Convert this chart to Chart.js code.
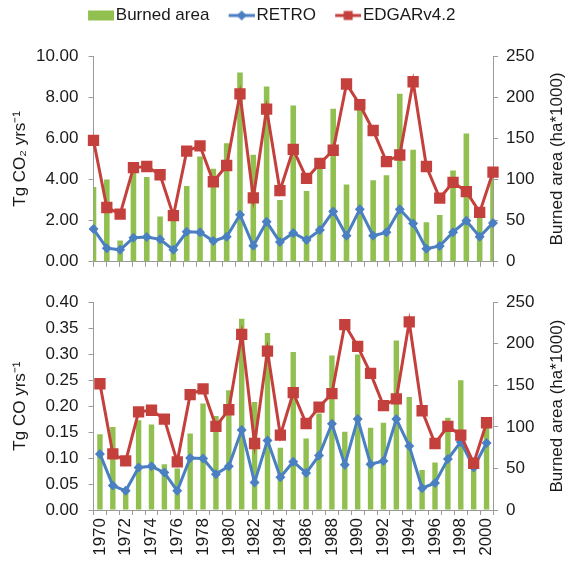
<!DOCTYPE html>
<html>
<head>
<meta charset="utf-8">
<title>CO2 / CO emissions and burned area 1970-2000</title>
<script src="https://cdn.jsdelivr.net/npm/chart.js@4.4.0/dist/chart.umd.min.js"></script>
<style>
  html, body { margin: 0; padding: 0; background: #fff; }
  #wrap { position: relative; width: 570px; height: 568px; }
  .panel { position: absolute; left: 0; width: 570px; }
  #topPanel { top: 0; height: 282px; }
  #bottomPanel { top: 282px; height: 286px; }
</style>
</head>
<body>
<div id="wrap">
  <div class="panel" id="topPanel"><canvas id="chartCO2"></canvas></div>
  <div class="panel" id="bottomPanel"><canvas id="chartCO"></canvas></div>
</div>
<script>
// --- data ---
const years = [];
for (let y = 1970; y <= 2000; y++) years.push(String(y));

// burned area (ha*1000), right axis of both panels
const burnedArea = [91, 100, 26, 108, 103, 55, 50, 92, 128, 113, 144, 230, 130, 213, 75, 190,
  86, 116, 186, 94, 187, 99, 105, 204, 136, 48, 57, 111, 156, 60, 110];

// Tg CO2 per year
const retroCO2 = [1.59, 0.66, 0.58, 1.17, 1.20, 1.09, 0.58, 1.46, 1.44, 1.01, 1.22, 2.29, 0.78, 1.94, 0.96, 1.40,
  1.06, 1.54, 2.45, 1.27, 2.55, 1.27, 1.43, 2.55, 1.86, 0.63, 0.77, 1.44, 1.99, 1.22, 1.89];
const edgarCO2 = [5.90, 2.64, 2.32, 4.58, 4.63, 4.23, 2.24, 5.38, 5.63, 3.89, 4.68, 8.16, 3.11, 7.42, 3.46, 5.46,
  4.05, 4.78, 5.42, 8.64, 7.63, 6.38, 4.87, 5.19, 8.75, 4.63, 3.09, 3.86, 3.41, 2.40, 4.36];

// Tg CO per year
const retroCO = [0.108, 0.047, 0.037, 0.082, 0.084, 0.072, 0.037, 0.100, 0.099, 0.069, 0.084, 0.154, 0.053, 0.134, 0.063, 0.093,
  0.071, 0.105, 0.166, 0.087, 0.175, 0.088, 0.0945, 0.175, 0.123, 0.042, 0.052, 0.098, 0.131, 0.082, 0.129];
const edgarCO = [0.243, 0.108, 0.0945, 0.189, 0.192, 0.175, 0.0926, 0.222, 0.233, 0.161, 0.193, 0.338, 0.128, 0.306, 0.144, 0.226,
  0.1665, 0.198, 0.224, 0.357, 0.315, 0.263, 0.201, 0.214, 0.362, 0.191, 0.128, 0.161, 0.144, 0.090, 0.168];

// --- styles ---
const FONT = "'Liberation Sans', Arial, sans-serif";
const TEXT = "#1a1a1a";
const AXIS = "#9a9a9a";
const GREEN = "#92C050";
const BLUE = "#4A7FC1";
const RED = "#C4403D";
const FS = 17;

const LEFT_W = 93.5;   // width of left axis box
const RIGHT_PAD = 34;  // room for the right-hand title
const RIGHT_W = 43;    // width of right axis box

// legend icons (line + marker like a spreadsheet legend)
const LEGEND_BOX = 31.5;
function legendIcon(draw) {
  const c = document.createElement("canvas");
  c.width = Math.round(LEGEND_BOX + FS - 4);
  c.height = 14;
  const g = c.getContext("2d");
  draw(g, c.width - 26, c.height / 2);
  return c;
}
const icons = [
  legendIcon((g, x, cy) => { g.fillStyle = GREEN; g.fillRect(x, cy - 5, 26, 10); }),
  legendIcon((g, x, cy) => {
    g.strokeStyle = BLUE; g.lineWidth = 3;
    g.beginPath(); g.moveTo(x, cy); g.lineTo(x + 26, cy); g.stroke();
    g.fillStyle = BLUE;
    g.beginPath(); g.moveTo(x + 13, cy - 5); g.lineTo(x + 18, cy); g.lineTo(x + 13, cy + 5); g.lineTo(x + 8, cy); g.closePath(); g.fill();
  }),
  legendIcon((g, x, cy) => {
    g.strokeStyle = RED; g.lineWidth = 3;
    g.beginPath(); g.moveTo(x, cy); g.lineTo(x + 26, cy); g.stroke();
    g.fillStyle = RED; g.fillRect(x + 8.5, cy - 4.5, 9, 9);
  }),
];

// right axis title reads bottom-to-top, so draw it here
const rightTitle = {
  id: "rightTitle",
  afterDraw(chart, args, opts) {
    const { ctx, chartArea } = chart;
    ctx.save();
    ctx.translate(opts.x, (chartArea.top + chartArea.bottom) / 2);
    ctx.rotate(-Math.PI / 2);
    ctx.font = FS + "px " + FONT;
    ctx.fillStyle = TEXT;
    ctx.textAlign = "center";
    ctx.textBaseline = "middle";
    ctx.fillText(opts.text, 0, 0);
    ctx.restore();
  },
};

function datasets(retro, edgar) {
  return [
    {
      type: "bar", label: "Burned area", data: burnedArea, yAxisID: "y2",
      backgroundColor: GREEN, barPercentage: 0.42, categoryPercentage: 1, order: 3,
    },
    {
      type: "line", label: "RETRO", data: retro, yAxisID: "y",
      borderColor: BLUE, backgroundColor: BLUE, borderWidth: 3,
      pointStyle: "rectRot", pointRadius: 5, pointBorderWidth: 0, order: 2,
    },
    {
      type: "line", label: "EDGARv4.2", data: edgar, yAxisID: "y",
      borderColor: RED, backgroundColor: RED, borderWidth: 3,
      pointStyle: "rect", pointRadius: 8, pointBorderWidth: 0, order: 1,
    },
  ];
}

const gridOpts = { drawOnChartArea: false, drawTicks: true, tickLength: 5, color: AXIS, lineWidth: 1 };
const borderOpts = { display: true, color: AXIS, width: 1 };
const tickFont = { family: FONT, size: FS };

function leftAxis(max, step, title) {
  return {
    position: "left", min: 0, max: max,
    afterFit: (s) => { s.width = LEFT_W; },
    grid: gridOpts, border: borderOpts,
    ticks: { stepSize: step, color: TEXT, font: tickFont, padding: 10, callback: (v) => Number(v).toFixed(2) },
    title: { display: true, text: title, color: TEXT, font: { family: FONT, size: FS }, padding: { top: 10, bottom: 0 } },
  };
}
function rightAxis() {
  return {
    position: "right", min: 0, max: 250,
    afterFit: (s) => { s.width = RIGHT_W; },
    grid: gridOpts, border: borderOpts,
    ticks: { stepSize: 50, color: TEXT, font: tickFont, padding: 8 },
  };
}

Chart.defaults.font.family = FONT;

// top panel: CO2
new Chart(document.getElementById("chartCO2"), {
  data: { labels: years, datasets: datasets(retroCO2, edgarCO2) },
  plugins: [rightTitle],
  options: {
    responsive: true, maintainAspectRatio: false, animation: false,
    layout: { padding: { left: 0, right: RIGHT_PAD, top: 0, bottom: 0 } },
    plugins: {
      tooltip: { enabled: false },
      legend: {
        position: "top",
        labels: {
          usePointStyle: true, pointStyleWidth: LEGEND_BOX, padding: 7,
          color: TEXT, font: { family: FONT, size: FS },
          // keep dataset order (bars first) and use the line+marker icons;
          // a trailing space on the last entry nudges the row a bit left
          generateLabels: (chart) => {
            const items = Chart.defaults.plugins.legend.labels.generateLabels(chart)
              .sort((a, b) => a.datasetIndex - b.datasetIndex);
            items.forEach((item) => { item.pointStyle = icons[item.datasetIndex]; });
            items[items.length - 1].text += " ";
            return items;
          },
        },
      },
      rightTitle: { text: "Burned area (ha*1000)", x: 557 },
    },
    scales: {
      gap: {
        type: "category", position: "top", display: true,
        grid: { display: false }, border: { display: false }, ticks: { display: false },
        afterFit: (s) => { s.height = 22; },
      },
      x: {
        type: "category", offset: true,
        afterFit: (s) => { s.height = 18; },
        grid: Object.assign({ offset: true }, gridOpts), border: borderOpts,
        ticks: { display: false },
      },
      y: leftAxis(10, 2, "Tg CO\u2082 yrs\u207B\u00B9"),
      y2: rightAxis(),
    },
  },
});

// bottom panel: CO
new Chart(document.getElementById("chartCO"), {
  data: { labels: years, datasets: datasets(retroCO, edgarCO) },
  plugins: [rightTitle],
  options: {
    responsive: true, maintainAspectRatio: false, animation: false,
    layout: { padding: { left: 0, right: RIGHT_PAD, top: 12, bottom: 0 } },
    plugins: {
      tooltip: { enabled: false },
      legend: { display: false },
      rightTitle: { text: "Burned area (ha*1000)", x: 557 },
    },
    scales: {
      x: {
        type: "category", offset: true,
        afterFit: (s) => { s.height = 58; },
        grid: Object.assign({ offset: true }, gridOpts), border: borderOpts,
        ticks: {
          autoSkip: false, minRotation: 90, maxRotation: 90, padding: 3,
          color: TEXT, font: tickFont,
          callback: (v, i) => (i % 2 === 0 ? years[i] : ""),
        },
      },
      y: leftAxis(0.4, 0.05, "Tg CO yrs\u207B\u00B9"),
      y2: rightAxis(),
    },
  },
});
</script>
</body>
</html>
